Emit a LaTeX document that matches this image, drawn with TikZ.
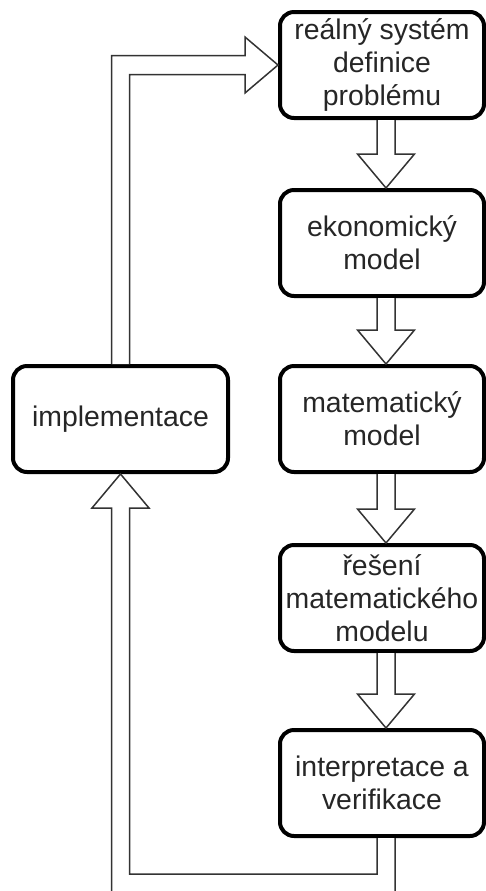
\documentclass[tikz,border=0pt]{standalone}
\usepackage{fontspec}
\setmainfont{Liberation Sans}
\usetikzlibrary{calc}
\usetikzlibrary{positioning}

\tikzset{
  stage/.style={draw, line width=2pt, rounded corners=7pt, minimum width=102pt,
    minimum height=53pt, inner sep=1pt, align=center, text=black!85,
    font=\fontsize{14.2}{16.5}\selectfont},
  hollow/.style={draw=black!80, line width=0.75pt, fill=white, line join=miter},
}

% hollow block arrow from the bottom of #1 down to the top of #2
\newcommand{\downstep}[2]{%
  \draw [hollow] ($(#1.south)+(-2.5pt,0)$) -- ($(#2.north)+(-2.5pt,17pt)$)
    -- ($(#2.north)+(-12.25pt,17pt)$) -- ($(#2.north)+(2pt,0)$)
    -- ($(#2.north)+(16.25pt,17pt)$) -- ($(#2.north)+(6.5pt,17pt)$)
    -- ($(#1.south)+(6.5pt,0)$);
}

\begin{document}
\begin{tikzpicture}
  \useasboundingbox (0,0) rectangle (243pt,-445.5pt);
  \clip (0,0) rectangle (243pt,-445.5pt);

  \node [stage] (sys) at (191pt,-32.5pt) {reálný systém\\definice\\problému};
  \node [stage, below=34pt of sys] (eko) {ekonomický\\model};
  \node [stage, below=33pt of eko] (mat) {matematický\\model};
  \node [stage, below=34.5pt of mat] (res) {řešení\\matematického\\modelu};
  \node [stage, below=37.5pt of res] (interp) {interpretace a\\verifikace};
  \node [stage, minimum width=107.5pt, left=24pt of mat] (impl) {implementace};

  \downstep{sys}{eko}
  \downstep{eko}{mat}
  \downstep{mat}{res}
  \downstep{res}{interp}

  % back to the real system
  \draw [hollow] ($(impl.north)+(-4.5pt,0)$) |- ($(sys.west)+(-16.5pt,4.75pt)$)
    -- ($(sys.west)+(-16.5pt,14pt)$) -- (sys.west)
    -- ($(sys.west)+(-16.5pt,-14pt)$) -- ($(sys.west)+(-16.5pt,-4.75pt)$)
    -| ($(impl.north)+(4.5pt,0)$);

  % from the verification to the implementation
  \coordinate (loopin) at ($(interp.south)+(0,-18pt)$);
  \coordinate (loopout) at ($(interp.south)+(0,-40pt)$);
  \coordinate (innerR) at ($(interp.south)+(-2.5pt,0)$);
  \coordinate (outerR) at ($(interp.south)+(6.5pt,0)$);
  \coordinate (innerL) at ($(impl.south)+(4.5pt,-17pt)$);
  \coordinate (outerL) at ($(impl.south)+(-4.5pt,-17pt)$);
  \draw [hollow] (innerR) -- (innerR |- loopin) -- (innerL |- loopin) -- (innerL)
    -- ($(impl.south)+(14.25pt,-17pt)$) -- (impl.south)
    -- ($(impl.south)+(-14.25pt,-17pt)$) -- (outerL)
    -- (outerL |- loopout) -- (outerR |- loopout) -- (outerR);

\end{tikzpicture}
\end{document}
